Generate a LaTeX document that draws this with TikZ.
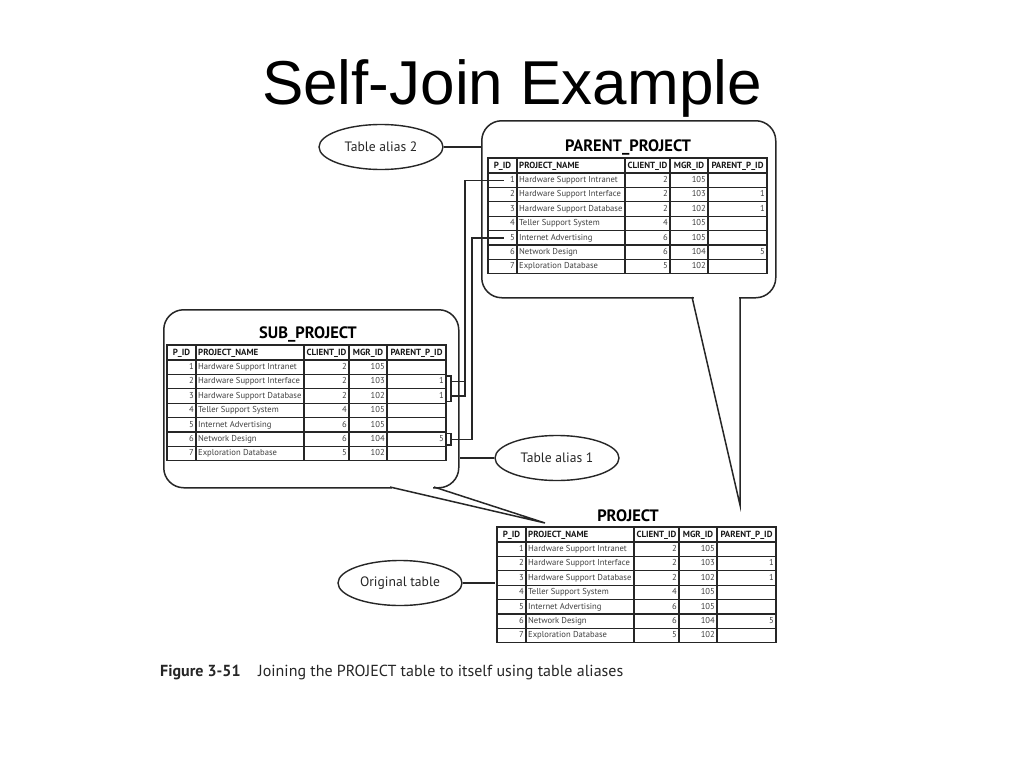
\documentclass[tikz,border=0pt]{standalone}
\usepackage{fontspec}
\setmainfont{PT Sans}
\newfontfamily\titlefont{Liberation Sans}
\usetikzlibrary{shapes.geometric}

\tikzset{
  tabline/.style={draw=black!85, line width=1.2pt},
  cell/.style={inner sep=0pt, text height=6.2pt, text depth=1.8pt, text=black!75, font=\fontsize{8.6}{9}\selectfont},
  hdr/.style={inner sep=0pt, text height=6.4pt, text depth=1.6pt, text=black!90, font=\fontsize{8.9}{9}\selectfont\bfseries},
  ttl/.style={inner sep=0pt, text=black, font=\fontsize{16.5}{18}\selectfont\bfseries},
  callbox/.style={draw=black!85, line width=1.5pt, rounded corners=20pt, fill=white},
  tailline/.style={draw=black!85, line width=1.5pt, line join=miter},
  alias/.style={ellipse, draw=black!85, line width=1.4pt, minimum width=124pt, minimum height=45pt, inner sep=0pt, text=black!85, font=\fontsize{13.6}{15}\selectfont},
  conn/.style={draw=black!85, line width=1.4pt},
}

\newcommand\projtab[3]{%
\begin{scope}[shift={(#1,#2)}]
  \coordinate (#3-nw) at (0,0);
  \coordinate (#3-west) at (0,57.9);
  \fill[white] (0,0) rectangle (279,115.8);
  \foreach \c in {29,137,182,220} \draw[tabline] (\c,0) -- (\c,115.8);
  \foreach \r in {0,...,6} \draw[tabline] (0,15+\r*14.4) -- (279,15+\r*14.4);
  \draw[tabline] (0,0) rectangle (279,115.8);
  \node[hdr] (#3-h1) at (14.5,7.6) {P\_ID};
  \node[hdr,anchor=west] (#3-h2) at (31,7.6) {PROJECT\_NAME};
  \node[hdr] (#3-h3) at (159.5,7.6) {CLIENT\_ID};
  \node[hdr] (#3-h4) at (201,7.6) {MGR\_ID};
  \node[hdr] (#3-h5) at (249.5,7.6) {PARENT\_P\_ID};
  \foreach \i/\n/\cl/\m/\p in {1/Hardware Support Intranet/2/105/,
      2/Hardware Support Interface/2/103/1,
      3/Hardware Support Database/2/102/1,
      4/Teller Support System/4/105/,
      5/Internet Advertising/6/105/,
      6/Network Design/6/104/5,
      7/Exploration Database/5/102/} {
    \pgfmathsetmacro\yy{15+(\i-0.5)*14.4}
    \pgfmathsetmacro\yt{15+(\i-1)*14.4+1.6}
    \pgfmathsetmacro\yb{15+\i*14.4-1.6}
    \node[cell,anchor=east] (#3-id\i) at (27,\yy) {\i};
    \node[cell,anchor=west] (#3-nm\i) at (31,\yy) {\n};
    \node[cell,anchor=east] (#3-cl\i) at (180,\yy) {\cl};
    \node[cell,anchor=east] (#3-mg\i) at (218,\yy) {\m};
    \node[cell,anchor=east] (#3-pp\i) at (277,\yy) {\p};
    \coordinate (#3-p\i) at (16,\yy);
    \coordinate (#3-e\i) at (284,\yy);
    \coordinate (#3-t\i) at (279,\yt);
    \coordinate (#3-b\i) at (279,\yb);
  }
\end{scope}}

\begin{document}
\begin{tikzpicture}[x=1pt,y=-1pt]
\useasboundingbox[fill=white] (0,0) rectangle (1024,768);

% title
\node[anchor=base, inner sep=0pt, font=\titlefont\fontsize{62}{70}\selectfont] (title) at (512,104) {Self-Join Example};

% callout boxes
\node[callbox, minimum width=294pt, minimum height=177pt, anchor=north west] (parbox) at (481,120) {};
\node[callbox, minimum width=295pt, minimum height=178pt, anchor=north west] (subbox) at (163,309) {};

% tails
\coordinate (ptl) at (692,297);
\coordinate (pta) at (740,505);
\coordinate (ptr) at (740,297);
\fill[white] (693.5,294) rectangle (738.5,300);
\draw[tailline] (ptl) -- (pta) -- (ptr);

\coordinate (stl) at (390,487);
\coordinate (sta) at (545,523);
\coordinate (str) at (434,487);
\fill[white] (391.5,484) rectangle (432.5,490);
\draw[tailline] (stl) -- (sta) -- (str);

% table titles
\node[ttl] (partitle) at (628,147) {PARENT\_PROJECT};
\node[ttl] (subtitle) at (308,334) {SUB\_PROJECT};
\node[ttl] (projtitle) at (628,516) {PROJECT};

% tables
\projtab{488}{158}{par}
\projtab{167}{345}{sub}
\projtab{497}{527}{proj}

% alias callouts
\node[alias] (al2) at (381,147) {Table alias 2};
\node[alias] (al1) at (557,458) {Table alias 1};
\node[alias] (orig) at (400,583) {Original table};
\draw[conn] (al2.east) -- (al2.east -| parbox.west);
\draw[conn] (al1.west) -- (al1.west -| subbox.east);
\draw[conn, shorten >=2pt] (orig.east) -- (orig.east -| proj-west);

% join connectors
\draw[conn] (sub-t2) -- ++(5,0) |- (sub-b3);
\draw[conn] (sub-e2) -- ++(14,0);
\draw[conn] (sub-e3) -- ++(14,0) |- (par-p1);
\draw[conn] (sub-t6) -- ++(5,0) |- (sub-b6);
\draw[conn] (sub-e6) -- ++(21,0) |- (par-p5);

% caption
\node[anchor=base west, inner sep=0pt, font=\fontsize{16}{18}\selectfont\bfseries, text=black!85] (figno) at (160,676) {Figure 3-51};
\node[anchor=base west, inner sep=0pt, font=\fontsize{16}{18}\selectfont, text=black!85] (caption) at (258,676) {Joining the PROJECT table to itself using table aliases};
\end{tikzpicture}
\end{document}
